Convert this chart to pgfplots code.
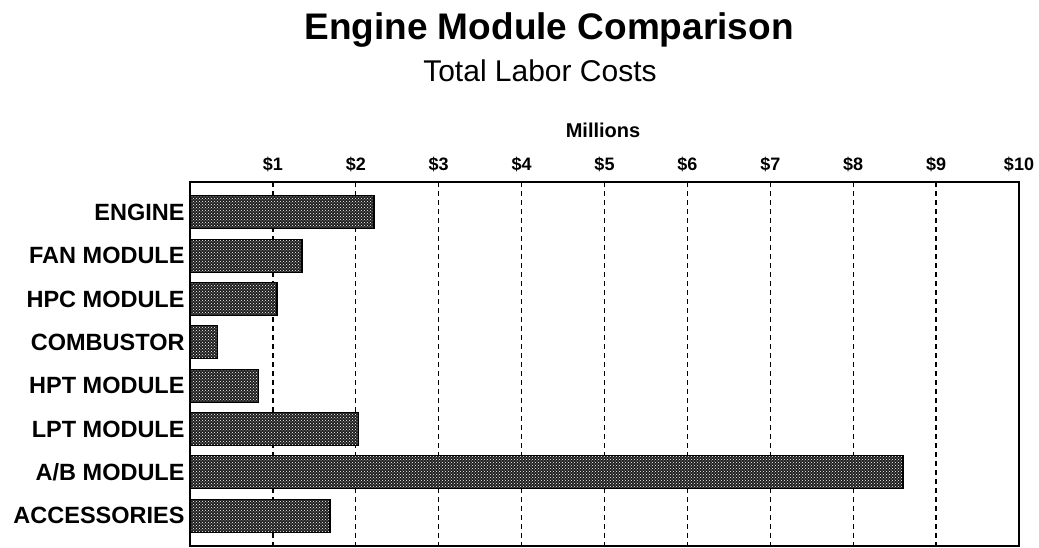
\documentclass[border=0pt]{standalone}
\usepackage{pgfplots}
\pgfplotsset{compat=1.18}
\usetikzlibrary{patterns}
\usepackage{fontspec}
\setmainfont{Liberation Sans}
\begin{document}
\begin{tikzpicture}
\node[anchor=base, inner sep=0pt, font=\fontsize{37}{42}\selectfont\bfseries] at (549pt,508pt) {Engine Module Comparison};
\node[anchor=base, inner sep=0pt, font=\fontsize{30}{34}\selectfont] at (540pt,466pt) {Total Labor Costs};
\node[anchor=base, inner sep=0pt, font=\fontsize{20}{24}\selectfont\bfseries] at (603pt,410pt) {Millions};
\begin{axis}[
  at={(190pt,2pt)}, anchor=south west,
  scale only axis, width=829pt, height=364pt,
  set layers,
  xbar, bar width=33pt,
  xmin=0, xmax=10, ymin=-0.7, ymax=7.7,
  y dir=reverse,
  xtick={1,...,10},
  xticklabels={\$1,\$2,\$3,\$4,\$5,\$6,\$7,\$8,\$9,\$10},
  xticklabel pos=upper,
  xticklabel style={font=\fontsize{18}{21}\selectfont\bfseries, anchor=base, inner sep=0pt, yshift=12pt},
  ytick={0,...,7},
  yticklabels={ENGINE,FAN MODULE,HPC MODULE,COMBUSTOR,HPT MODULE,LPT MODULE,A/B MODULE,ACCESSORIES},
  yticklabel style={font=\fontsize{23.5}{27}\selectfont\bfseries, inner sep=0pt},
  yticklabel shift=1pt,
  xtick style={draw=none}, ytick style={draw=none},
  xmajorgrids, grid style={black, line width=1.3pt, dash pattern=on 5pt off 4pt},
  axis line style={line width=1.3pt},
]
\addplot[draw=black, line width=1.3pt, fill=black!88,
  postaction={pattern=crosshatch dots, pattern color=white}]
  coordinates {(2.22,0) (1.35,1) (1.05,2) (0.33,3) (0.83,4) (2.03,5) (8.6,6) (1.69,7)};
\end{axis}
\pgfresetboundingbox
\useasboundingbox (0,0) rectangle (1039pt,548pt);
\end{tikzpicture}
\end{document}
